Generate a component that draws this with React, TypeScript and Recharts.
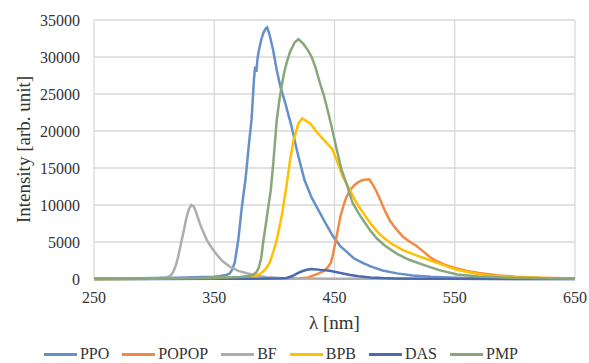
import React, { useEffect } from 'react';
import { LineChart, Line, XAxis, YAxis, CartesianGrid, Legend } from 'recharts';

// wavelength [nm] / intensity pairs
const ppoX = [250, 280, 300, 320, 340, 350, 355, 360, 363, 365, 367, 370, 373, 376, 379, 381, 383, 384, 385, 386, 387, 389, 391, 393, 394, 396, 399, 402, 405, 409, 414, 419, 425, 431, 438, 443, 449, 455, 460, 466, 473, 480, 490, 502, 515, 530, 550, 575, 600, 650];
const ppoY = [50, 80, 120, 180, 260, 320, 400, 550, 770, 1300, 2200, 5300, 9800, 13500, 18500, 21500, 26900, 28700, 28000, 29800, 30800, 32300, 33300, 33900, 34000, 33000, 30900, 28200, 26000, 23800, 20800, 17200, 13400, 11000, 8900, 7400, 5700, 4400, 3700, 2800, 2200, 1700, 1150, 760, 480, 300, 170, 90, 50, 20];

const popopX = [250, 300, 350, 400, 420, 428, 432, 436, 440, 444, 447, 449, 451, 453, 455, 458, 460, 463, 466, 469, 472, 475, 479, 482, 485, 488, 492, 496, 501, 507, 512, 518, 524, 529, 535, 542, 551, 560, 570, 585, 600, 620, 650];
const popopY = [0, 20, 30, 50, 80, 200, 450, 700, 1000, 1500, 2200, 3500, 5200, 6800, 8500, 10200, 11100, 12000, 12600, 13000, 13300, 13400, 13470, 12700, 11800, 10700, 9200, 7900, 6800, 5700, 5100, 4500, 3700, 3000, 2400, 1900, 1450, 1100, 800, 500, 320, 170, 60];

const bfX = [250, 280, 300, 310, 314, 316, 318, 320, 323, 325, 327, 329, 331, 333, 335, 338, 341, 344, 348, 352, 357, 363, 370, 377, 385, 394, 405, 420, 450, 500, 550, 650];
const bfY = [0, 20, 60, 200, 500, 1000, 1800, 3000, 5300, 6800, 8400, 9500, 10000, 9800, 9000, 7500, 6300, 5200, 4200, 3300, 2400, 1650, 1100, 770, 450, 230, 130, 80, 50, 30, 20, 10];

const bpbX = [250, 300, 350, 370, 380, 385, 389, 393, 396, 399, 402, 406, 410, 413, 416, 420, 423, 426, 430, 435, 440, 444, 448, 452, 457, 461, 465, 469, 474, 480, 485, 490, 497, 507, 518, 529, 540, 552, 565, 580, 600, 625, 650];
const bpbY = [0, 40, 120, 200, 270, 450, 770, 1400, 2160, 3600, 5300, 8400, 12500, 16000, 18800, 21000, 21700, 21400, 21000, 19900, 19000, 18300, 17600, 16000, 13800, 12600, 11300, 10100, 8900, 7500, 6500, 5700, 4800, 3900, 3200, 2570, 1900, 1250, 800, 450, 250, 120, 50];

const dasX = [250, 300, 350, 380, 395, 405, 410, 415, 419, 423, 427, 431, 435, 440, 446, 452, 458, 463, 470, 480, 490, 500, 520, 550, 600, 650];
const dasY = [0, 10, 30, 40, 60, 100, 150, 400, 770, 1050, 1250, 1350, 1300, 1200, 1100, 900, 700, 540, 380, 200, 120, 80, 50, 30, 15, 10];

const pmpX = [250, 300, 350, 365, 371, 378, 382, 385, 387, 389, 391, 393, 395, 397, 399, 402, 404, 406, 408, 410, 413, 417, 420, 424, 428, 431, 434, 438, 441, 444, 448, 452, 456, 460, 465, 470, 474, 480, 485, 492, 502, 512, 524, 537, 552, 570, 590, 620, 650];
const pmpY = [0, 40, 150, 220, 270, 400, 540, 900, 1500, 2800, 5300, 7500, 9800, 12000, 15500, 21500, 24000, 26000, 27800, 29100, 30700, 32000, 32400, 31800, 30900, 30000, 28700, 26400, 24900, 23000, 20300, 17400, 14700, 12900, 10300, 8900, 7900, 6500, 5500, 4500, 3400, 2600, 1900, 1200, 600, 350, 200, 100, 50];

const xTicks = [250, 350, 450, 550, 650];
const yTicks = [0, 5000, 10000, 15000, 20000, 25000, 30000, 35000];

const toRows = (xs: number[], ys: number[]) => xs.map((l, i) => ({ l, v: ys[i] }));

const series = [
  { name: 'PPO', color: '#6690C8', rows: toRows(ppoX, ppoY) },
  { name: 'POPOP', color: '#EE8A45', rows: toRows(popopX, popopY) },
  { name: 'BF', color: '#ADADAD', rows: toRows(bfX, bfY) },
  { name: 'BPB', color: '#FFC000', rows: toRows(bpbX, bpbY) },
  { name: 'DAS', color: '#4D6AAE', rows: toRows(dasX, dasY) },
  { name: 'PMP', color: '#89A77A', rows: toRows(pmpX, pmpY) },
];

const font = '"Liberation Serif", "Times New Roman", serif';
const textStyle = { fontFamily: font, fontSize: 16, fill: '#333' };
const titleStyle = { ...textStyle, fontSize: 19 };

// axis titles drawn by hand so font and size stick
const XTitle = ({ viewBox }: any) => (
  <text x={viewBox.x + viewBox.width / 2} y={viewBox.y + 50} textAnchor="middle" style={titleStyle}>
    λ [nm]
  </text>
);

const YTitle = ({ viewBox }: any) => {
  const cx = 23;
  const cy = viewBox.y + viewBox.height / 2;
  return (
    <text x={cx} y={cy} textAnchor="middle" dominantBaseline="central" transform={`rotate(-90, ${cx}, ${cy})`} style={titleStyle}>
      Intensity [arb. unit]
    </text>
  );
};

const LegendBox = () => (
  <div style={{ display: 'flex', justifyContent: 'center', height: 18, lineHeight: '18px', fontFamily: font, fontSize: 16, color: '#333' }}>
    {series.map((s) => (
      <div key={s.name} style={{ display: 'flex', alignItems: 'center', marginRight: 13 }}>
        <span style={{ display: 'inline-block', width: 33, height: 3, background: s.color, marginRight: 3 }} />
        <span>{s.name}</span>
      </div>
    ))}
  </div>
);

export default function App() {
  useEffect(() => {
    document.body.style.margin = '0';
  }, []);

  return (
    <div style={{ width: 589, height: 363, background: '#fff', fontFamily: font }}>
      <LineChart width={589} height={363} margin={{ top: 20, right: 14, left: 0, bottom: 0 }} style={{ fontFamily: font }}>
        <CartesianGrid stroke="#D9D9D9" strokeWidth={1.3} />
        <XAxis
          dataKey="l"
          type="number"
          domain={[250, 650]}
          ticks={xTicks}
          axisLine={false}
          tickLine={false}
          tickSize={0}
          tickMargin={13}
          height={66}
          allowDuplicatedCategory={false}
          tick={{ ...textStyle, style: textStyle }}
          label={XTitle}
        />
        <YAxis
          type="number"
          domain={[0, 35000]}
          ticks={yTicks}
          axisLine={false}
          tickLine={false}
          tickSize={0}
          tickMargin={14}
          width={94}
          tick={{ ...textStyle, style: textStyle }}
          label={YTitle}
        />
        <Legend verticalAlign="bottom" content={<LegendBox />} />
        {series.map((s) => (
          <Line
            key={s.name}
            data={s.rows}
            dataKey="v"
            name={s.name}
            stroke={s.color}
            strokeWidth={2.5}
            dot={false}
            type="linear"
            isAnimationActive={false}
          />
        ))}
      </LineChart>
    </div>
  );
}
